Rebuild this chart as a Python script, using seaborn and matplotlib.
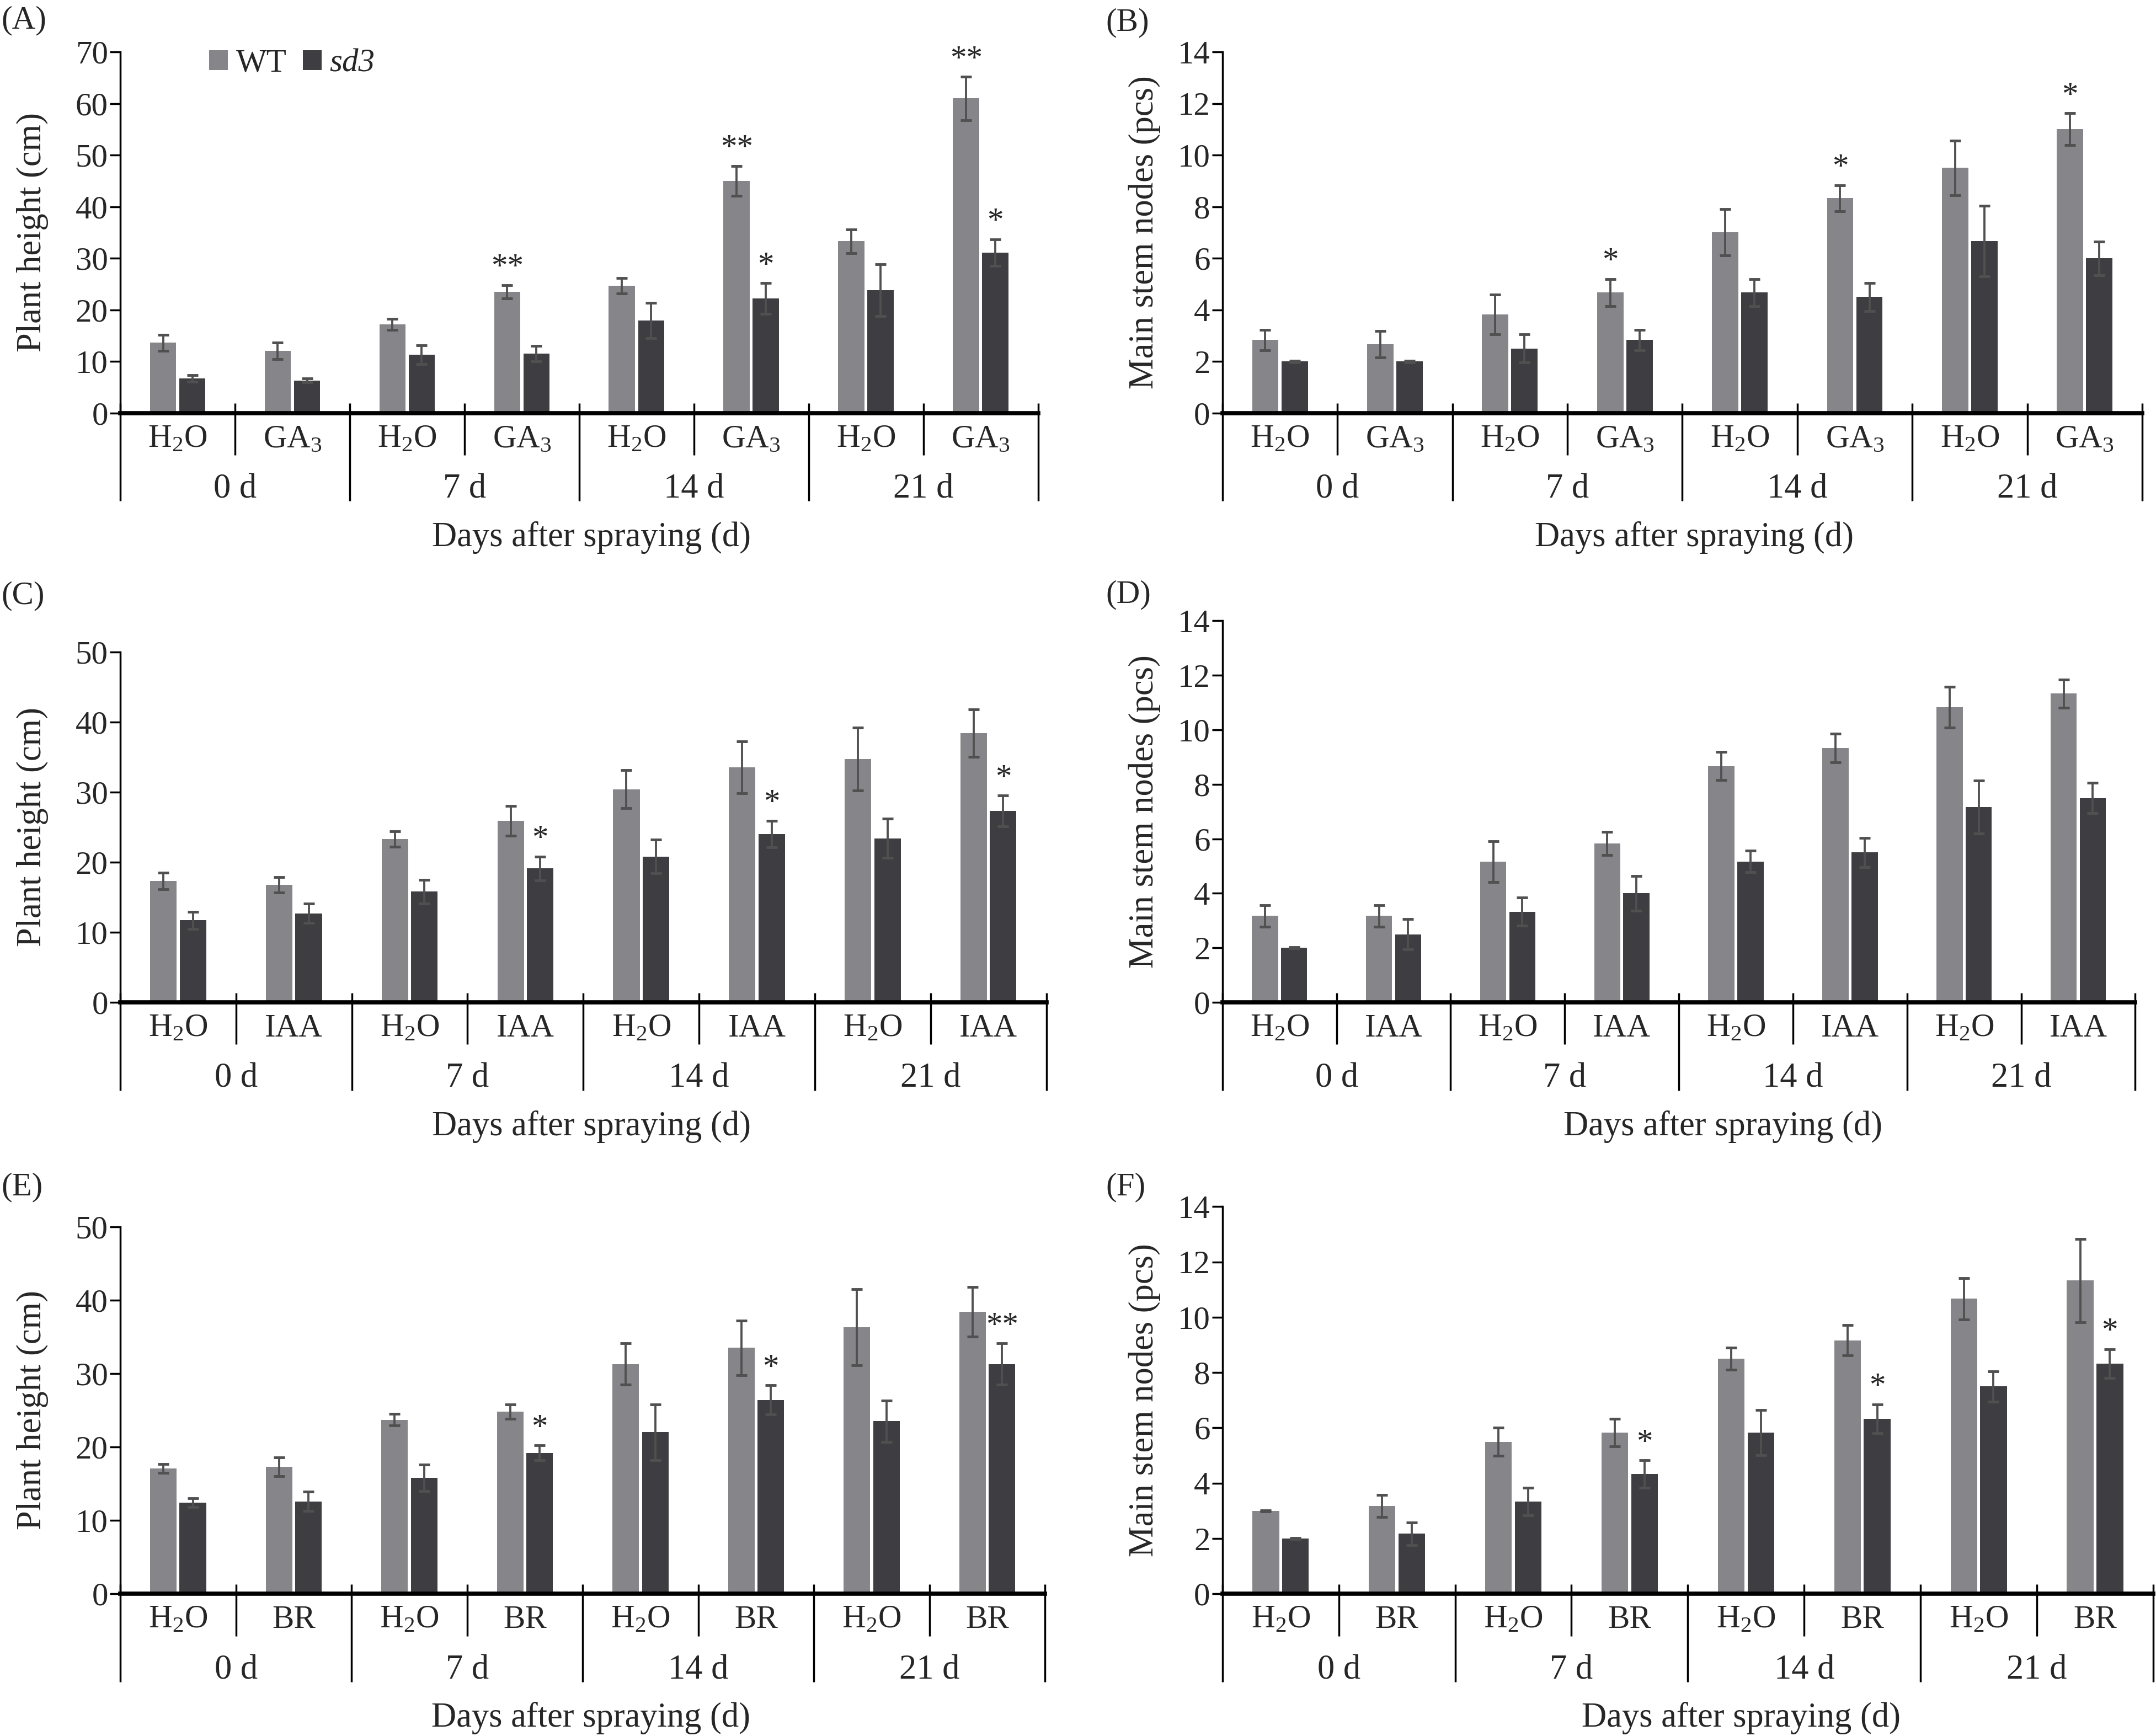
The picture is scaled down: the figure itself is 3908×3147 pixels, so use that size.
import matplotlib
matplotlib.use('Agg')
import matplotlib.pyplot as plt
import seaborn as sns
import pandas as pd

# ------------------------------------------------------------------
# data
# ------------------------------------------------------------------
days = ['0 d', '7 d', '14 d', '21 d']
genotypes = ['WT', 'sd3']

# (A) plant height, GA3
height_ga_wt = [13.6, 12.0, 17.2, 23.5, 24.7, 45.0, 33.3, 61.0]
height_ga_wt_err = [1.5, 1.6, 1.1, 1.3, 1.5, 2.9, 2.3, 4.2]
height_ga_sd3 = [6.7, 6.3, 11.3, 11.5, 17.9, 22.2, 23.8, 31.1]
height_ga_sd3_err = [0.6, 0.4, 1.8, 1.5, 3.4, 3.0, 5.0, 2.6]
height_ga_wt_sig = ['', '', '', '**', '', '**', '', '**']
height_ga_sd3_sig = ['', '', '', '', '', '*', '', '*']

# (B) main stem nodes, GA3
nodes_ga_wt = [2.83, 2.67, 3.83, 4.67, 7.0, 8.33, 9.5, 11.0]
nodes_ga_wt_err = [0.4, 0.52, 0.77, 0.53, 0.9, 0.5, 1.05, 0.62]
nodes_ga_sd3 = [2.0, 2.0, 2.5, 2.83, 4.67, 4.5, 6.67, 6.0]
nodes_ga_sd3_err = [0.03, 0.03, 0.55, 0.4, 0.52, 0.55, 1.37, 0.65]
nodes_ga_wt_sig = ['', '', '', '*', '', '*', '', '*']
nodes_ga_sd3_sig = ['', '', '', '', '', '', '', '']

# (C) plant height, IAA
height_iaa_wt = [17.3, 16.8, 23.3, 25.9, 30.4, 33.5, 34.7, 38.4]
height_iaa_wt_err = [1.2, 1.1, 1.1, 2.1, 2.7, 3.7, 4.5, 3.4]
height_iaa_sd3 = [11.7, 12.7, 15.8, 19.1, 20.8, 24.0, 23.4, 27.3]
height_iaa_sd3_err = [1.2, 1.4, 1.7, 1.7, 2.4, 1.9, 2.8, 2.2]
height_iaa_wt_sig = ['', '', '', '', '', '', '', '']
height_iaa_sd3_sig = ['', '', '', '*', '', '*', '', '*']

# (D) main stem nodes, IAA
nodes_iaa_wt = [3.17, 3.17, 5.17, 5.83, 8.67, 9.33, 10.83, 11.33]
nodes_iaa_wt_err = [0.4, 0.4, 0.75, 0.42, 0.52, 0.52, 0.75, 0.52]
nodes_iaa_sd3 = [2.0, 2.5, 3.33, 4.0, 5.17, 5.5, 7.17, 7.5]
nodes_iaa_sd3_err = [0.02, 0.55, 0.52, 0.63, 0.4, 0.53, 0.97, 0.55]
nodes_iaa_wt_sig = ['', '', '', '', '', '', '', '']
nodes_iaa_sd3_sig = ['', '', '', '', '', '', '', '']

# (E) plant height, BR
height_br_wt = [17.1, 17.3, 23.7, 24.8, 31.3, 33.5, 36.3, 38.4]
height_br_wt_err = [0.6, 1.3, 0.8, 1.0, 2.8, 3.7, 5.2, 3.4]
height_br_sd3 = [12.4, 12.6, 15.8, 19.2, 22.0, 26.4, 23.5, 31.3]
height_br_sd3_err = [0.6, 1.3, 1.8, 1.0, 3.8, 2.0, 2.8, 2.8]
height_br_wt_sig = ['', '', '', '', '', '', '', '']
height_br_sd3_sig = ['', '', '', '*', '', '*', '', '**']

# (F) main stem nodes, BR
nodes_br_wt = [3.0, 3.17, 5.5, 5.83, 8.5, 9.17, 10.67, 11.33]
nodes_br_wt_err = [0.02, 0.4, 0.5, 0.5, 0.4, 0.55, 0.75, 1.5]
nodes_br_sd3 = [2.0, 2.17, 3.33, 4.33, 5.83, 6.33, 7.5, 8.33]
nodes_br_sd3_err = [0.02, 0.4, 0.5, 0.5, 0.82, 0.52, 0.55, 0.52]
nodes_br_wt_sig = ['', '', '', '', '', '', '', '']
nodes_br_sd3_sig = ['', '', '', '*', '', '*', '', '*']

WT_COLOR = '#868589'
SD3_COLOR = '#3e3d41'
ERR_COLOR = '#505050'
FS = 17
LAB_FS = 18

sns.set_theme(style='white')
plt.rcParams['font.family'] = ['Liberation Serif', 'DejaVu Serif']
plt.rcParams['mathtext.fontset'] = 'custom'
plt.rcParams['mathtext.rm'] = 'Liberation Serif'
plt.rcParams['mathtext.default'] = 'regular'

fig = plt.figure(figsize=(15.632, 12.588), dpi=250)


def draw_panel(box, tag, tag_xy, treat, treat_label, wt, wt_err, sd3, sd3_err,
               wt_sig, sd3_sig, ylabel, ymax, ystep, ylab_x, xlab_x, legend=False):
    l, b, r, t = box
    ax = fig.add_axes([l, b, r - l, t - b])
    slots = [f'{d}|{tr}' for d in days for tr in ['H2O', treat]]
    df = pd.DataFrame({'slot': slots * 2,
                       'value': wt + sd3,
                       'genotype': ['WT'] * 8 + ['sd3'] * 8})
    sns.barplot(data=df, x='slot', y='value', hue='genotype', order=slots,
                hue_order=genotypes, palette=[WT_COLOR, SD3_COLOR],
                width=0.51, gap=0.1, errorbar=None, saturation=1,
                linewidth=0, legend=legend, ax=ax)

    for bars, vals, errs, sig in zip(ax.containers, [wt, sd3],
                                     [wt_err, sd3_err], [wt_sig, sd3_sig]):
        xs = [p.get_x() + p.get_width() / 2 for p in bars]
        ax.errorbar(xs, vals, yerr=errs, fmt='none', ecolor=ERR_COLOR,
                    elinewidth=1.1, capsize=3, capthick=1.4, zorder=3)
        for x, v, e, s in zip(xs, vals, errs, sig):
            if s:
                ax.annotate(s, (x, v + e), xytext=(0, 1), textcoords='offset points',
                            ha='center', va='bottom', fontsize=FS)

    ax.set_xlim(-0.5, 7.5)
    ax.set_ylim(0, ymax)
    ax.set_yticks(range(0, ymax + 1, ystep))
    ax.set_xticks(range(8))
    ax.set_xticklabels(['H$_2$O', treat_label] * 4, fontsize=FS)
    ax.tick_params(axis='x', length=0, pad=6)
    ax.tick_params(axis='y', direction='out', length=5.4, width=1, pad=1,
                   labelsize=FS, left=True, color='black')
    sns.despine(ax=ax)
    ax.spines['left'].set_linewidth(1.0)
    ax.spines['left'].set_color('black')
    ax.spines['bottom'].set_linewidth(2.2)
    ax.spines['bottom'].set_color('black')

    # category separators below the axis
    h_pt = (t - b) * fig.get_figheight() * 72
    xtrans = ax.get_xaxis_transform()
    for i in range(9):
        depth = 46 if i % 2 == 0 else 22
        ax.plot([i - 0.5, i - 0.5], [5 / h_pt, -depth / h_pt], transform=xtrans,
                color='black', lw=1.0, clip_on=False, solid_capstyle='butt')

    for i, d in enumerate(days):
        ax.annotate(d, xy=(2 * i + 0.5, 0), xycoords=xtrans, xytext=(0, -40),
                    textcoords='offset points', ha='center', va='center', fontsize=LAB_FS)

    ax.set_xlabel('')
    ax.annotate('Days after spraying (d)', xy=(xlab_x, 0), xycoords='axes fraction',
                xytext=(0, -65), textcoords='offset points', ha='center', va='center',
                fontsize=LAB_FS)

    ax.set_ylabel(ylabel, fontsize=LAB_FS, va='center')
    ax.yaxis.set_label_coords(ylab_x, b + (t - b) / 2, transform=fig.transFigure)

    fig.text(tag_xy[0], tag_xy[1], tag, ha='left', va='center', fontsize=FS)

    if legend:
        handles, labels = ax.get_legend_handles_labels()
        leg = ax.legend(handles, labels, loc='center left', bbox_to_anchor=(0.097, 0.967),
                        ncol=2, frameon=False, fontsize=FS, borderpad=0, borderaxespad=0,
                        handlelength=0.57, handleheight=0.57, handletextpad=0.25,
                        columnspacing=0.5)
        leg.get_texts()[1].set_fontstyle('italic')
    return ax


draw_panel((0.0558, 0.7621, 0.4815, 0.9701), '(A)', (0.0005, 0.988), 'GA', 'GA$_3$',
           height_ga_wt, height_ga_wt_err, height_ga_sd3, height_ga_sd3_err,
           height_ga_wt_sig, height_ga_sd3_sig, 'Plant height (cm)', 70, 10,
           0.015, 0.513, legend=True)
draw_panel((0.567, 0.7621, 0.9936, 0.9701), '(B)', (0.513, 0.987), 'GA', 'GA$_3$',
           nodes_ga_wt, nodes_ga_wt_err, nodes_ga_sd3, nodes_ga_sd3_err,
           nodes_ga_wt_sig, nodes_ga_sd3_sig, 'Main stem nodes (pcs)', 14, 2,
           0.531, 0.513)
draw_panel((0.0558, 0.4226, 0.4853, 0.6245), '(C)', (0.0005, 0.6567), 'IAA', 'IAA',
           height_iaa_wt, height_iaa_wt_err, height_iaa_sd3, height_iaa_sd3_err,
           height_iaa_wt_sig, height_iaa_sd3_sig, 'Plant height (cm)', 50, 10,
           0.015, 0.509)
draw_panel((0.567, 0.4226, 0.9904, 0.6424), '(D)', (0.513, 0.6573), 'IAA', 'IAA',
           nodes_iaa_wt, nodes_iaa_wt_err, nodes_iaa_sd3, nodes_iaa_sd3_err,
           nodes_iaa_wt_sig, nodes_iaa_sd3_sig, 'Main stem nodes (pcs)', 14, 2,
           0.531, 0.548)
draw_panel((0.0558, 0.0819, 0.4847, 0.2934), '(E)', (0.0005, 0.316), 'BR', 'BR',
           height_br_wt, height_br_wt_err, height_br_sd3, height_br_sd3_err,
           height_br_wt_sig, height_br_sd3_sig, 'Plant height (cm)', 50, 10,
           0.015, 0.509)
draw_panel((0.567, 0.0819, 0.9987, 0.3049), '(F)', (0.513, 0.316), 'BR', 'BR',
           nodes_br_wt, nodes_br_wt_err, nodes_br_sd3, nodes_br_sd3_err,
           nodes_br_wt_sig, nodes_br_sd3_sig, 'Main stem nodes (pcs)', 14, 2,
           0.531, 0.557)

fig.savefig('out.png', dpi=250)
